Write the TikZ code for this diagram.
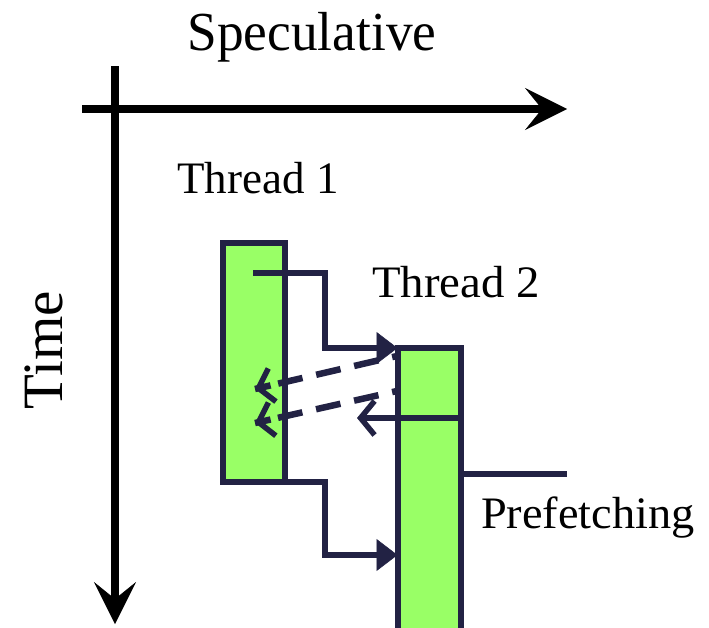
\documentclass[tikz,border=0pt]{standalone}
\usepackage{fontspec}
\setmainfont{Liberation Serif}
\usetikzlibrary{arrows.meta,calc}
\definecolor{navy}{HTML}{222244}
\definecolor{barfill}{HTML}{99FF66}
\begin{document}
\begin{tikzpicture}[x=1pt,y=-1pt,
  axis/.style={line width=8pt, draw=black, -{Stealth[length=42pt,width=42pt,inset=17pt,line width=0.5pt]}},
  bar/.style={draw=navy, fill=barfill, line width=6pt, inner sep=0pt, outer sep=0pt, rectangle},
  flow/.style={draw=navy, line width=6.5pt, -{Triangle[length=21pt,width=32pt,line width=0.5pt]}},
  back/.style={draw=navy, line width=6.5pt, -{Straight Barb[length=14pt,width=34pt,line width=5.5pt]}},
  dashline/.style={draw=navy, line width=6.5pt, dash pattern=on 25pt off 14pt, dash phase=20pt},
  lab/.style={font=\fontsize{45}{54}\selectfont, inner sep=0pt, anchor=base}]
\clip (0,0) rectangle (709,627);
% axes
\coordinate (hx0) at (82,109);
\coordinate (hx1) at (567,109);
\coordinate (vy0) at (115,66);
\coordinate (vy1) at (115,624);
\draw[axis] (hx0) -- (hx1);
\draw[axis] (vy0) -- (vy1);
% labels
\node[lab, font=\fontsize{55}{64}\selectfont] (spec) at (312,50) {\scalebox{0.97}[1]{Speculative}};
\node[lab, rotate=90, font=\fontsize{57}{66}\selectfont] (time) at (62,350) {Time};
\node[lab] (t1) at (258,193) {Thread 1};
\node[lab] (t2) at (456,297) {\scalebox{1.04}[1]{Thread 2}};
\node[lab] (pf) at (588,528) {\scalebox{1.03}[1]{Prefetching}};
% bars
\node[bar, minimum width=62.5pt, minimum height=238.5pt] (b1) at (253.75,362.25) {};
\node[bar, minimum width=63pt, minimum height=292.5pt] (b2) at (429,493.75) {};
% connector points
\coordinate (a1s) at (253,273);
\coordinate (a1c1) at (325,273);
\coordinate (a1c2) at (325,348);
\coordinate (a1e) at (b2.north west |- a1c2);
\coordinate (a2s) at (253,482);
\coordinate (a2c1) at (325,482);
\coordinate (a2c2) at (325,555);
\coordinate (a2e) at (b2.west |- a2c2);
\draw[flow] (a1s) -- (a1c1) -- (a1c2) -- (a1e);
\draw[flow] (a2s) -- (a2c1) -- (a2c2) -- (a2e);
% dashed returns (dashed shaft, solid tip)
\coordinate (d1s) at (397,356);
\coordinate (d1e) at (255,389);
\coordinate (d2s) at (397,391);
\coordinate (d2e) at (255,423);
\draw[dashline] (d1s) -- (d1e);
\draw[dashline] (d2s) -- (d2e);
\draw[back] ($(d1e)!16pt!(d1s)$) -- (d1e);
\draw[back] ($(d2e)!16pt!(d2s)$) -- (d2e);
% solid return across thread 2
\coordinate (r1s) at (b2.east |- 0,418);
\coordinate (r1e) at (357,418);
\draw[back] (r1s) -- (r1e);
% prefetching line
\coordinate (p1s) at (b2.east |- 0,474);
\coordinate (p1e) at (567,474);
\draw[draw=navy, line width=6.5pt] (p1s) -- (p1e);
\end{tikzpicture}
\end{document}
